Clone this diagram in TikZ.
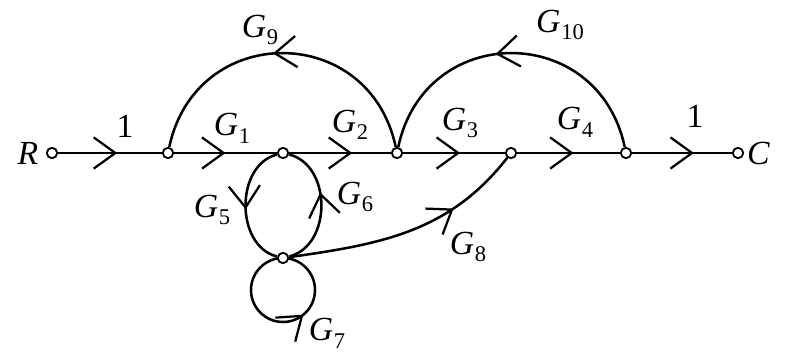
\documentclass[tikz,border=0pt]{standalone}
\usepackage{fontspec}
\setmainfont{Liberation Serif}
\usetikzlibrary{positioning, arrows.meta, decorations.markings, backgrounds}

\newcommand{\gsub}[1]{\textit{G}\kern0.5pt\raisebox{-0.5ex}{\fontsize{16}{16}\selectfont #1}}

\begin{document}
\begin{tikzpicture}[
	% --- Styles ---
	signode/.style={
		circle, draw, fill=white, line width=1.3pt,
		minimum size=0.26cm, inner sep=0pt
	},
	branch/.style={
		draw, line width=1.8pt
	},
	% chevron in the middle of a branch
	midarrow/.style={
		postaction={decorate},
		decoration={markings, mark=at position #1 with {\arrow{Straight Barb[length=5.4mm, width=7.8mm, line width=1.6pt]}}}
	},
	midarrow/.default=0.55,
	gainlabel/.style={
		font=\fontsize{24}{26}\selectfont, inner sep=1pt
	}
	]
	
	\useasboundingbox (0,0) rectangle (19.625,8.95);
	
	% --- 1. Nodes of the graph ---
	\node [signode] (r) at (1.3,5.125) {};
	\node [signode] (n1) at (4.2,5.125) {};
	\node [signode] (n2) at (7.075,5.125) {};
	\node [signode] (n3) at (9.925,5.125) {};
	\node [signode] (n4) at (12.775,5.125) {};
	\node [signode] (n5) at (15.65,5.125) {};
	\node [signode] (c) at (18.45,5.125) {};
	\node [signode] (n6) at (7.075,2.5) {};
	
	\node [gainlabel, left=0.15cm of r] (lbl_r) {\textit{R}};
	\node [gainlabel, right=1pt of c] (lbl_c) {\textit{C}};
	
	% --- 2. Branches ---
	\begin{scope}[on background layer]
		% Forward path
		\draw [branch, midarrow=0.57] (r) -- (n1);
		\draw [branch, midarrow=0.5] (n1) -- (n2);
		\draw [branch, midarrow=0.62] (n2) -- (n3);
		\draw [branch, midarrow=0.56] (n3) -- (n4);
		\draw [branch, midarrow=0.55] (n4) -- (n5);
		\draw [branch, midarrow=0.62] (n5) -- (c);
		
		% Feedback arcs on top
		\draw [branch, midarrow=0.53] (n3) to[out=102, in=78, looseness=1.45] (n1);
		\draw [branch, midarrow=0.55] (n5) to[out=102, in=78, looseness=1.45] (n3);
		
		% Loop between n2 and n6
		\draw [branch, midarrow=0.53] (n2) .. controls +(-1.2,-0.3) and +(-1.2,0.3) .. (n6);
		\draw [branch, midarrow=0.6] (n6) .. controls +(1.23,0.3) and +(1.23,-0.3) .. (n2);
		
		% Self loop
		\draw [branch, midarrow=0.61] (n6.center) arc[start angle=90, end angle=450, radius=0.8cm];
		
		% Branch to n4
		\draw [branch, midarrow=0.7] (n6) to[out=8, in=232] (n4);
	\end{scope}
	
	% --- 3. Gains ---
	\node [gainlabel] (lbl_a) at (3.125,5.78) {1};
	\node [gainlabel] (lbl_g1) at (5.8,5.75) {\gsub{1}};
	\node [gainlabel] (lbl_g2) at (8.75,5.83) {\gsub{2}};
	\node [gainlabel] (lbl_g3) at (11.5,5.875) {\gsub{3}};
	\node [gainlabel] (lbl_g4) at (14.375,5.9) {\gsub{4}};
	\node [gainlabel] (lbl_b) at (17.375,6.03) {1};
	\node [gainlabel] (lbl_g5) at (5.3,3.7) {\gsub{5}};
	\node [gainlabel] (lbl_g6) at (8.875,4.025) {\gsub{6}};
	\node [gainlabel] (lbl_g7) at (8.175,0.625) {\gsub{7}};
	\node [gainlabel] (lbl_g8) at (11.7,2.775) {\gsub{8}};
	\node [gainlabel] (lbl_g9) at (6.5,8.2) {\gsub{9}};
	\node [gainlabel] (lbl_g10) at (14.0,8.325) {\gsub{10}};
	
\end{tikzpicture}
\end{document}
